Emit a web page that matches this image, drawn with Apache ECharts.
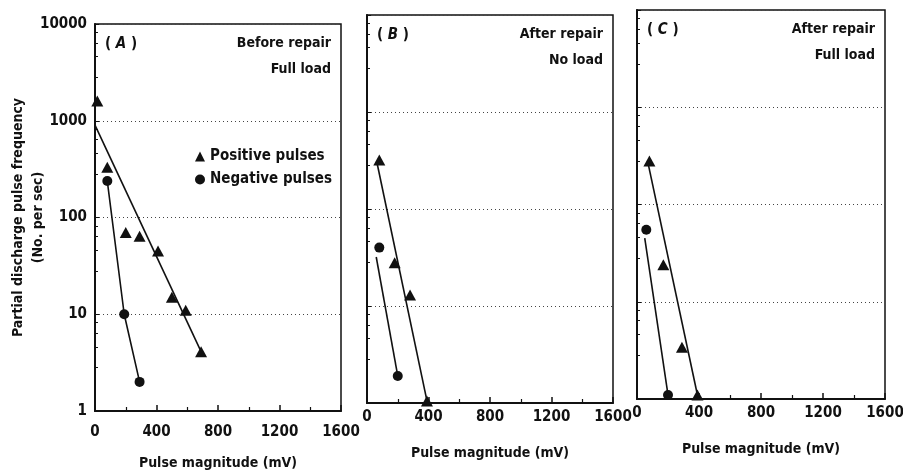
<!DOCTYPE html>
<html>
<head>
<meta charset="utf-8">
<script src="https://cdn.jsdelivr.net/npm/echarts@6/dist/echarts.min.js"></script>
<style>
  html, body { margin: 0; background: #fff; }
  #chart { width: 903px; height: 476px; }
</style>
</head>
<body>
<div id="chart"></div>
<script>
// Pulse magnitude (mV) vs. pulse frequency (No. per sec)

// (A) before repair, full load
const posA_x = [15, 80, 200, 290, 410, 500, 590, 690]
const posA_y = [1600, 330, 70, 64, 45, 15, 11, 4.1]
const negA_x = [80, 190, 290]
const negA_y = [238, 10, 2]
const posFitA_x = [0, 690]
const posFitA_y = [900, 4.1]
const negFitA_x = negA_x
const negFitA_y = negA_y

// (B) after repair, no load
const posB_x = [80, 180, 280, 390]
const posB_y = [320, 28, 13, 1.05]
const negB_x = [80, 200]
const negB_y = [40, 1.9]
const posFitB_x = [65, 390]
const posFitB_y = [300, 1.05]
const negFitB_x = [60, 200]
const negFitB_y = [32, 1.9]

// (C) after repair, full load
const posC_x = [80, 170, 290, 390]
const posC_y = [280, 24, 3.4, 1.1]
const negC_x = [60, 200]
const negC_y = [55, 1.1]
const posFitC_x = [75, 390]
const posFitC_y = [250, 1.1]
const negFitC_x = [50, 200]
const negFitC_y = [45, 1.1]

const xTicks = [0, 400, 800, 1200, 1600]
const yTicks = [1, 10, 100, 1000, 10000]

const panelTags = ['A', 'B', 'C']
const panelNotes = [
  ['Before repair', 'Full load'],
  ['After repair', 'No load'],
  ['After repair', 'Full load'],
]

const FONT = "'DejaVu Sans Condensed', 'Liberation Sans', Arial, sans-serif"
const INK = '#111'

const zip = (xs, ys) => xs.map((x, i) => [x, ys[i]])

const panels = [
  { pos: zip(posA_x, posA_y), neg: zip(negA_x, negA_y), posFit: zip(posFitA_x, posFitA_y), negFit: zip(negFitA_x, negFitA_y) },
  { pos: zip(posB_x, posB_y), neg: zip(negB_x, negB_y), posFit: zip(posFitB_x, posFitB_y), negFit: zip(negFitB_x, negFitB_y) },
  { pos: zip(posC_x, posC_y), neg: zip(negC_x, negC_y), posFit: zip(posFitC_x, posFitC_y), negFit: zip(negFitC_x, negFitC_y) },
]

// panel frames (slightly skewed in the scan)
const grids = [
  { left: 95, top: 24, width: 246, height: 387 },
  { left: 367, top: 15, width: 246, height: 388 },
  { left: 637, top: 10, width: 248, height: 389 },
]
const labelMargins = [14, 7, 7]
const nameGaps = [45, 43, 43]

const chart = echarts.init(document.getElementById('chart'))

const series = []
panels.forEach((p, i) => {
  const common = { xAxisIndex: i, yAxisIndex: i, silent: true, z: 3 }
  series.push({ ...common, type: 'line', data: p.posFit, symbol: 'none', lineStyle: { color: INK, width: 1.6 } })
  series.push({ ...common, type: 'line', data: p.negFit, symbol: 'none', lineStyle: { color: INK, width: 1.6 } })
  series.push({ ...common, type: 'scatter', name: 'Positive pulses', data: p.pos, symbol: 'triangle', symbolSize: [12, 11], itemStyle: { color: INK, opacity: 1 } })
  series.push({ ...common, type: 'scatter', name: 'Negative pulses', data: p.neg, symbol: 'circle', symbolSize: 10, itemStyle: { color: INK, opacity: 1 } })
})

const graphic = []
grids.forEach((g, i) => {
  const right = g.left + g.width - 10
  graphic.push({
    type: 'text', x: g.left + 10, y: g.top + 20,
    style: {
      text: '( {i|' + panelTags[i] + '} )', textVerticalAlign: 'middle',
      font: 'bold 15px ' + FONT, fill: INK,
      rich: { i: { fontStyle: 'italic', fontWeight: 'bold', fontSize: 15, fontFamily: FONT } }
    }
  })
  panelNotes[i].forEach((t, k) => {
    graphic.push({
      type: 'text', x: right, y: g.top + 19 + k * 26,
      style: { text: t, textAlign: 'right', textVerticalAlign: 'middle', font: 'bold 14px ' + FONT, fill: INK }
    })
  })
})

chart.setOption({
  backgroundColor: '#fff',
  animation: false,
  textStyle: { fontFamily: FONT },
  grid: grids.map(g => ({
    ...g, show: true, borderColor: INK, borderWidth: 1.5, backgroundColor: 'transparent',
    containLabel: false, outerBoundsMode: 'none'
  })),
  legend: {
    left: 190, top: 144, orient: 'vertical', itemGap: 8,
    itemWidth: 10, itemHeight: 10, selectedMode: false,
    data: [{ name: 'Positive pulses', icon: 'triangle' }, { name: 'Negative pulses', icon: 'circle' }],
    textStyle: { fontSize: 15, fontWeight: 'bold', color: INK, fontFamily: FONT },
    itemStyle: { color: INK }
  },
  xAxis: grids.map((g, i) => ({
    type: 'value', gridIndex: i, min: xTicks[0], max: xTicks[xTicks.length - 1],
    interval: xTicks[1] - xTicks[0],
    name: 'Pulse magnitude (mV)', nameLocation: 'middle', nameGap: nameGaps[i],
    nameMoveOverlap: false,
    nameTextStyle: { fontSize: 14, fontWeight: 'bold', color: INK, fontFamily: FONT },
    axisLine: { lineStyle: { color: INK, width: 2 } },
    axisTick: { inside: true, length: 6, lineStyle: { color: INK, width: 1.5 } },
    minorTick: { show: true, splitNumber: 2, length: 4, lineStyle: { color: INK, width: 1.2 } },
    axisLabel: {
      fontSize: 15, fontWeight: 'bold', color: INK, margin: labelMargins[i], fontFamily: FONT,
      formatter: v => String(v)
    },
    splitLine: { show: false }
  })),
  yAxis: grids.map((g, i) => ({
    type: 'log', logBase: 10, gridIndex: i, min: yTicks[0], max: yTicks[yTicks.length - 1],
    name: i === 0 ? 'Partial discharge pulse frequency\n(No. per sec)' : '',
    nameLocation: 'middle', nameGap: 47, nameRotate: 90, nameMoveOverlap: false,
    nameTextStyle: { fontSize: 14, fontWeight: 'bold', color: INK, lineHeight: 20, fontFamily: FONT },
    axisLine: { lineStyle: { color: INK, width: 2 } },
    axisTick: { inside: true, length: 4, lineStyle: { color: INK } },
    minorTick: { show: true, splitNumber: 5, length: 3, lineStyle: { color: INK } },
    axisLabel: {
      show: i === 0, fontSize: 15, fontWeight: 'bold', color: INK, margin: 8, fontFamily: FONT,
      formatter: v => String(v)
    },
    splitLine: { show: true, lineStyle: { color: '#444', type: [1, 3], width: 1 } }
  })),
  series,
  graphic
})
</script>
</body>
</html>
